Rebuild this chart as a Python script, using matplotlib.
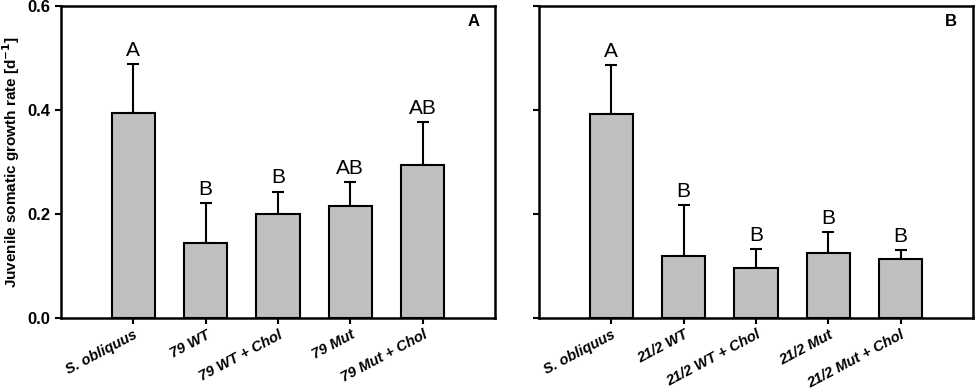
import matplotlib
matplotlib.use("Agg")
import matplotlib.pyplot as plt
import numpy as np

plt.rcParams['font.family'] = ['Liberation Sans', 'DejaVu Sans']

# Panel A
labels_a = ["S. obliquus", "79 WT", "79 WT + Chol", "79 Mut", "79 Mut + Chol"]
means_a = [0.394, 0.145, 0.200, 0.215, 0.294]
errs_a = [0.095, 0.076, 0.043, 0.046, 0.083]
letters_a = ["A", "B", "B", "AB", "AB"]

# Panel B
labels_b = ["S. obliquus", "21/2 WT", "21/2 WT + Chol", "21/2 Mut", "21/2 Mut + Chol"]
means_b = [0.392, 0.119, 0.096, 0.125, 0.114]
errs_b = [0.095, 0.098, 0.036, 0.040, 0.016]
letters_b = ["A", "B", "B", "B", "B"]

fig = plt.figure(figsize=(9.76, 3.9), dpi=100)
ax1 = fig.add_axes([61/976, 1-318/390, (495-61)/976, (318-6)/390])
ax2 = fig.add_axes([539/976, 1-318/390, (973-539)/976, (318-6)/390])

def panel(ax, labels, means, errs, letters, tag, show_y):
    x = np.arange(len(labels))
    ax.bar(x, means, width=0.6, color="#c0c0c0", edgecolor="black", linewidth=1.5, zorder=2)
    ax.errorbar(x, means, yerr=[np.zeros(len(errs)), errs], fmt="none",
                ecolor="black", elinewidth=1.5, capsize=4, capthick=1.5, zorder=1)
    for xi, m, e, lt in zip(x, means, errs, letters):
        ax.text(xi, m + e + 0.008, lt, ha="center", va="bottom", fontsize=15)
    ax.set_xlim(-1, 5)
    ax.set_ylim(0, 0.6)
    ax.set_yticks([0.0, 0.2, 0.4, 0.6])
    ax.set_xticks(x)
    ax.set_xticklabels(labels, rotation=28, ha="right", rotation_mode="anchor",
                       fontsize=10.5, fontweight="bold", style="italic")
    ax.tick_params(axis="both", direction="out", length=4, width=1.5, top=False, right=False)
    ax.tick_params(axis="x", pad=3)
    if show_y:
        ax.set_yticklabels(["0.0", "0.2", "0.4", "0.6"], fontsize=12, fontweight="bold")
        ax.set_ylabel("Juvenile somatic growth rate [d$^{\\mathbf{-1}}$]", fontsize=11, fontweight="bold")
    else:
        ax.set_yticklabels([])
    for s in ax.spines.values():
        s.set_linewidth(1.8)
    ax.text(0.95, 0.95, tag, transform=ax.transAxes, ha="center", va="center",
            fontsize=12, fontweight="bold")

panel(ax1, labels_a, means_a, errs_a, letters_a, "A", True)
panel(ax2, labels_b, means_b, errs_b, letters_b, "B", False)

fig.savefig("out.png", dpi=100)
